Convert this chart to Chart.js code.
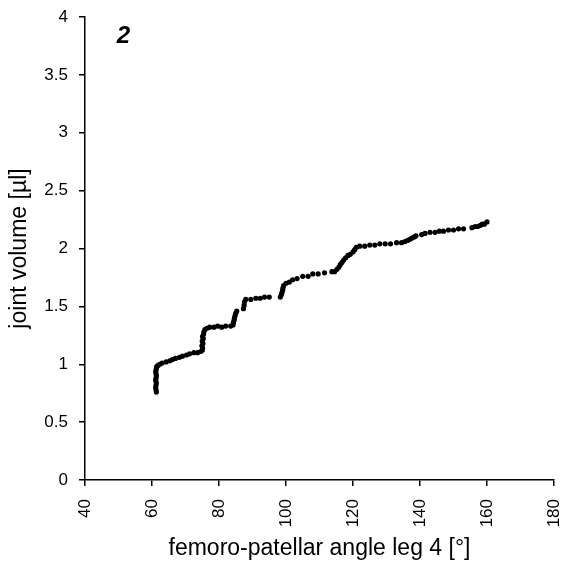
<!DOCTYPE html>
<html>
<head>
<meta charset="utf-8">
<script src="https://cdn.jsdelivr.net/npm/chart.js@4"></script>
<style>
  html, body { margin: 0; padding: 0; background: #fff; }
  #wrap { width: 561px; height: 563px; }
</style>
</head>
<body>
<div id="wrap"><canvas id="chart" width="561" height="563"></canvas></div>
<script>

/* DATA */

const angle = [
  61.3, 61.2, 61.1, 61.2, 61.3, 61.1, 61.2, 61.3, 61.2, 61.1, 61.3, 61.4, 61.8, 62.3,
  63.0, 64.2, 65.3, 66.1, 67.0, 68.2, 69.1, 70.3, 71.2, 72.5, 73.6, 74.5,
  75.0, 75.1, 74.9, 75.2, 75.0, 75.3, 75.1, 75.4, 75.5, 75.8, 76.4,
  77.2, 78.5, 79.6, 80.8, 82.0, 83.5, 84.2, 84.3, 84.5, 84.6, 84.8, 85.0, 85.3,
  87.3, 87.5, 87.6, 88.0, 89.5, 91.0, 92.3, 93.6, 95.0,
  98.3, 98.6, 98.8, 99.0, 99.1, 99.3, 100.0, 101.0, 102.0, 103.3, 105.0, 106.6,
  108.0, 109.6, 111.5, 113.7, 114.5, 115.2, 115.8, 116.2, 116.7, 117.2, 117.8,
  118.5, 119.2, 120.0, 120.5, 121.0, 122.0, 123.5, 125.0, 126.5, 128.0, 129.6,
  131.2, 133.0, 134.5, 135.5, 136.3, 137.0, 137.6, 138.3, 138.8, 140.5, 141.5,
  143.0, 144.5, 145.8, 147.0, 148.5, 150.0, 151.5, 153.0, 155.5, 156.5, 157.2,
  158.0, 158.6, 159.2, 160.0
];

const volume = [
  0.76, 0.78, 0.80, 0.82, 0.84, 0.86, 0.88, 0.90, 0.92, 0.94, 0.96, 0.98, 0.99, 1.00,
  1.01, 1.02, 1.03, 1.04, 1.05, 1.06, 1.07, 1.08, 1.09, 1.10, 1.10, 1.11,
  1.12, 1.14, 1.16, 1.18, 1.20, 1.22, 1.24, 1.26, 1.28, 1.30, 1.31,
  1.32, 1.32, 1.33, 1.32, 1.33, 1.33, 1.34, 1.36, 1.38, 1.40, 1.42, 1.44, 1.46,
  1.48, 1.51, 1.54, 1.56, 1.56, 1.57, 1.57, 1.58, 1.58,
  1.58, 1.60, 1.62, 1.64, 1.66, 1.68, 1.70, 1.71, 1.73, 1.74, 1.76, 1.76,
  1.78, 1.78, 1.79, 1.80, 1.80, 1.82, 1.84, 1.86, 1.88, 1.90, 1.92,
  1.94, 1.95, 1.97, 1.99, 2.01, 2.02, 2.02, 2.03, 2.03, 2.04, 2.04,
  2.04, 2.05, 2.05, 2.06, 2.07, 2.08, 2.09, 2.10, 2.11, 2.12, 2.13,
  2.14, 2.14, 2.15, 2.15, 2.16, 2.16, 2.17, 2.17, 2.18, 2.19, 2.19,
  2.20, 2.21, 2.21, 2.23
];

const xTicks = [40, 60, 80, 100, 120, 140, 160, 180];
const yTicks = [0, 0.5, 1, 1.5, 2, 2.5, 3, 3.5, 4];

const panelLabel = "2";
const panelLabelAt = [51.5, 3.83];

/* CHART */

const FONT = "'Liberation Sans', Arial, sans-serif";

const points = angle.map((a, i) => ({ x: a, y: volume[i] }));

const panelLabelPlugin = {
  id: "panelLabel",
  afterDraw(chart){
    const ctx = chart.ctx;
    const px = chart.scales.x.getPixelForValue(panelLabelAt[0]);
    const py = chart.scales.y.getPixelForValue(panelLabelAt[1]);
    ctx.save();
    ctx.font = "italic bold 24px " + FONT;
    ctx.fillStyle = "#000";
    ctx.textAlign = "center";
    ctx.textBaseline = "middle";
    ctx.fillText(panelLabel, px, py);
    ctx.restore();
  }
};

function axisGrid(){
  return {
    display: true,
    drawOnChartArea: false,
    drawTicks: true,
    tickLength: 6,
    color: "#000",
    lineWidth: 1.5
  };
}

new Chart(document.getElementById("chart"), {
  type: "scatter",
  data: {
    datasets: [{
      data: points,
      backgroundColor: "#000",
      borderWidth: 0,
      pointRadius: 2.6,
      pointHoverRadius: 2.6
    }]
  },
  options: {
    responsive: false,
    animation: false,
    layout: { padding: { top: 17, right: 7, left: 0, bottom: 0 } },
    plugins: {
      legend: { display: false },
      tooltip: { enabled: false }
    },
    scales: {
      x: {
        type: "linear",
        min: 40,
        max: 180,
        afterBuildTicks(scale){
          scale.ticks = xTicks.map(v => ({ value: v }));
        },
        afterFit(scale){
          scale.height = 83;
          scale.paddingLeft = 0;
          scale.paddingRight = 0;
        },
        ticks: {
          minRotation: 90,
          maxRotation: 90,
          padding: 13,
          color: "#000",
          font: { family: FONT, size: 17 },
          callback: v => String(v)
        },
        grid: axisGrid(),
        border: { display: true, color: "#000", width: 1.5 },
        title: {
          display: true,
          text: "femoro-patellar angle leg 4 [°]",
          color: "#000",
          font: { family: FONT, size: 23 },
          padding: { top: 0, bottom: 1 }
        }
      },
      y: {
        type: "linear",
        min: 0,
        max: 4,
        afterBuildTicks(scale){
          scale.ticks = yTicks.map(v => ({ value: v }));
        },
        afterFit(scale){
          scale.width = 85;
          scale.paddingTop = 0;
          scale.paddingBottom = 0;
        },
        ticks: {
          padding: 11,
          color: "#000",
          font: { family: FONT, size: 17 },
          callback: v => String(v)
        },
        grid: axisGrid(),
        border: { display: true, color: "#000", width: 1.5 },
        title: {
          display: true,
          text: "joint volume [µl]",
          color: "#000",
          font: { family: FONT, size: 23 },
          padding: { top: 6, bottom: 0 }
        }
      }
    }
  },
  plugins: [panelLabelPlugin]
});

</script>
</body>
</html>
